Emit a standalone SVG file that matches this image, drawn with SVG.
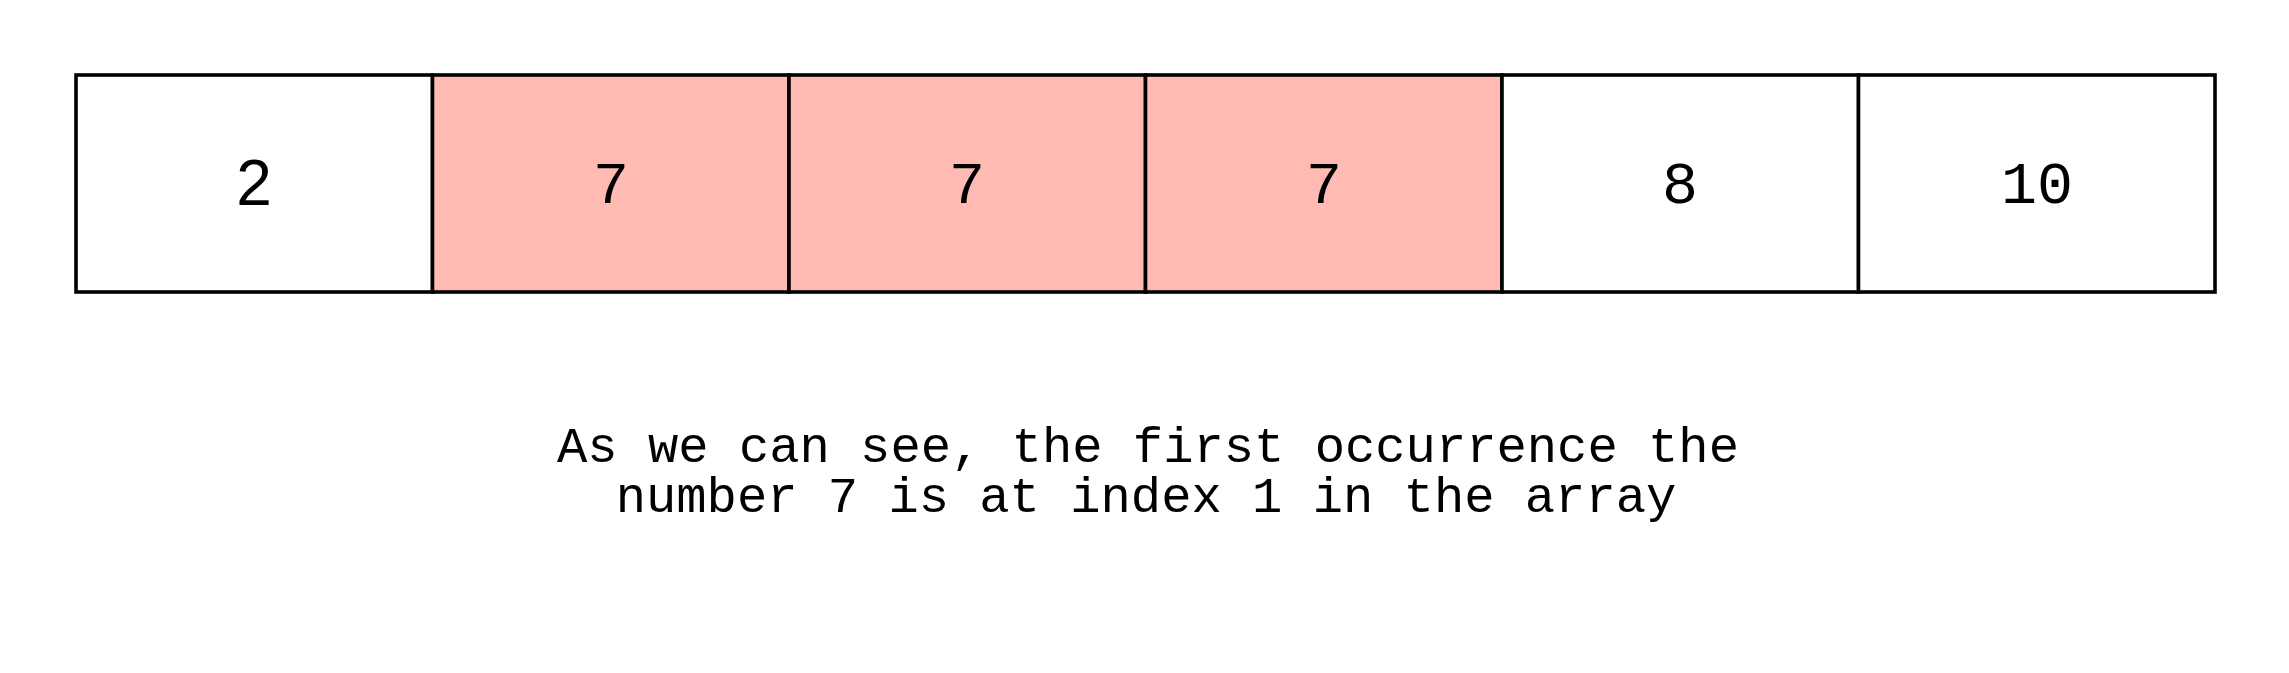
<svg xmlns="http://www.w3.org/2000/svg" width="2289" height="673" viewBox="0 0 2289 673">
<style>
.cell{stroke:#000;stroke-width:3.6}
.w{fill:#fff}
.p{fill:#ffbbb3}
.num{font-family:"Liberation Mono",monospace;font-size:60px;text-anchor:middle;fill:#000}
.sans{font-family:"Liberation Sans",Arial,sans-serif;font-size:64px}
.cap{font-family:"Liberation Mono",monospace;font-size:50.5px;text-anchor:middle;fill:#000}
</style>
<rect width="2289" height="673" fill="#fff"/>
<g id="cell0"><rect class="cell w" x="76" y="75" width="356.5" height="217"/><text class="num sans" x="254" y="205">2</text></g>
<g id="cell1"><rect class="cell p" x="432.5" y="75" width="356.5" height="217"/><text class="num" x="611" y="203">7</text></g>
<g id="cell2"><rect class="cell p" x="789" y="75" width="356.5" height="217"/><text class="num" x="967" y="203">7</text></g>
<g id="cell3"><rect class="cell p" x="1145.5" y="75" width="356.5" height="217"/><text class="num" x="1324" y="203">7</text></g>
<g id="cell4"><rect class="cell w" x="1502" y="75" width="356.5" height="217"/><text class="num" x="1680" y="203">8</text></g>
<g id="cell5"><rect class="cell w" x="1858.5" y="75" width="356.5" height="217"/><text class="num" x="2037" y="203">10</text></g>
<g id="caption"><text class="cap" x="1148" y="462">As we can see, the first occurrence the</text><text class="cap" x="1146" y="512">number 7 is at index 1 in the array</text></g>
</svg>
